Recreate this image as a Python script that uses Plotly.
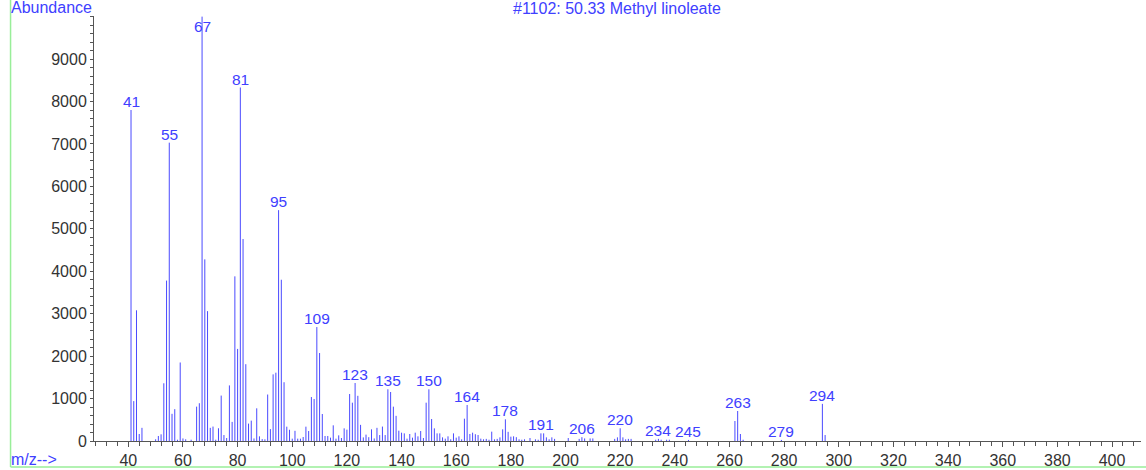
import plotly.graph_objects as go

# ---- data (m/z and abundance) ----
mz = [41, 42, 43, 44, 45, 50, 51, 52, 53, 54, 55, 56, 57, 58, 59, 60, 61, 63,
      65, 66, 67, 68, 69, 70, 71, 72, 73, 74, 75, 76, 77, 78, 79, 80, 81, 82,
      83, 84, 85, 86, 87, 88, 89, 90, 91, 92, 93, 94, 95, 96, 97, 98, 99, 100,
      101, 102, 103, 104, 105, 106, 107, 108, 109, 110, 111, 112, 113, 114,
      115, 116, 117, 118, 119, 120, 121, 122, 123, 124, 125, 126, 127, 128,
      129, 130, 131, 132, 133, 134, 135, 136, 137, 138, 139, 140, 141, 142,
      143, 144, 145, 146, 147, 148, 149, 150, 151, 152, 153, 154, 155, 156,
      157, 158, 159, 160, 161, 162, 163, 164, 165, 166, 167, 168, 169, 170,
      171, 172, 173, 174, 175, 176, 177, 178, 179, 180, 181, 182, 183, 184,
      185, 187, 189, 190, 191, 192, 193, 194, 195, 196, 201, 205, 206, 207,
      209, 210, 218, 219, 220, 221, 222, 223, 224, 233, 234, 235, 237, 238,
      245, 262, 263, 264, 265, 279, 294, 295]
abundance = [7800, 940, 3080, 165, 310, 40, 118, 157, 1360, 3780, 7030, 640,
             750, 30, 1850, 60, 40, 30, 810, 890, 10000, 4280, 3060, 310, 340,
             30, 300, 1070, 140, 70, 1310, 450, 3880, 2170, 8330, 4760, 1810,
             410, 480, 60, 770, 110, 45, 40, 1095, 280, 1570, 1610, 5440, 3800,
             1385, 338, 265, 55, 240, 55, 55, 94, 338, 235, 1036, 990, 2685,
             2073, 636, 118, 118, 79, 369, 55, 133, 70, 298, 267, 1107, 903,
             1366, 1065, 380, 85, 150, 90, 275, 60, 310, 140, 340, 140, 1218,
             1155, 809, 593, 243, 196, 180, 55, 165, 79, 196, 110, 235, 70,
             903, 1218, 518, 298, 180, 180, 86, 55, 110, 40, 180, 79, 110, 40,
             526, 848, 165, 196, 160, 141, 55, 40, 50, 30, 220, 40, 50, 86,
             275, 511, 216, 102, 110, 90, 40, 30, 40, 70, 40, 30, 180, 180,
             86, 40, 86, 50, 70, 50, 90, 60, 60, 60, 50, 86, 300, 86, 40, 50,
             50, 30, 50, 30, 30, 30, 25, 471, 707, 165, 30, 25, 875, 141]
labeled_peaks = [41, 55, 67, 81, 95, 109, 123, 135, 150, 164, 178, 191, 206,
                 220, 234, 245, 263, 279, 294]
x_tick_labels = list(range(40, 401, 20))
y_tick_labels = list(range(0, 9001, 1000))
title_text = "#1102: 50.33 Methyl linoleate"

# ---- styling ----
BLUE = "#4040ff"
LINE_BLUE = "#4a4aff"
AXIS = "#555555"
TICKTXT = "#333333"
GREEN = "#99ee99"
FONT = "Liberation Sans, Arial, sans-serif"
X_RANGE = [27.45, 410.6]
Y_RANGE = [0, 10015]

# stick spectrum as one line trace (vertical segments)
xs, ys = [], []
for m, a in zip(mz, abundance):
    xs += [m, m, None]
    ys += [0, a, None]

fig = go.Figure()
fig.add_trace(go.Scatter(x=xs, y=ys, mode="lines",
                         line=dict(color=LINE_BLUE, width=1),
                         hoverinfo="skip", showlegend=False))

lookup = dict(zip(mz, abundance))
annotations = []
for m in labeled_peaks:
    a = lookup[m]
    if a + 470 > Y_RANGE[1]:
        annotations.append(dict(x=m, y=Y_RANGE[1], text=str(m), showarrow=False,
                                yanchor="top", xanchor="center", yshift=0,
                                font=dict(family=FONT, size=15.5, color=BLUE)))
    else:
        annotations.append(dict(x=m, y=a, text=str(m), showarrow=False,
                                yanchor="bottom", xanchor="center", yshift=-2,
                                font=dict(family=FONT, size=15.5, color=BLUE)))

annotations += [
    dict(xref="paper", yref="paper", x=0.4995, y=1.0188, text=title_text,
         showarrow=False, xanchor="center", yanchor="middle",
         font=dict(family=FONT, size=16, color=BLUE)),
    dict(xref="paper", yref="paper", x=-0.0812, y=1.0188, text="Abundance",
         showarrow=False, xanchor="left", yanchor="middle", yshift=1,
         font=dict(family=FONT, size=16, color=BLUE)),
    dict(xref="paper", yref="paper", x=-0.0812, y=-0.0424, text="m/z-->",
         showarrow=False, xanchor="left", yanchor="middle", yshift=0,
         font=dict(family=FONT, size=16, color=BLUE)),
]

shapes = [
    dict(type="line", xref="paper", yref="paper", x0=-0.0797, x1=-0.0797,
         y0=1.04, y1=-0.0612, line=dict(color=GREEN, width=1.5)),
    dict(type="line", xref="paper", yref="paper", x0=-0.0797, x1=1.01,
         y0=-0.0612, y1=-0.0612, line=dict(color=GREEN, width=1.5)),
]

fig.update_layout(
    width=1146, height=470,
    margin=dict(l=94, r=5, t=16, b=29, autoexpand=False),
    paper_bgcolor="white", plot_bgcolor="white",
    font=dict(family=FONT, size=16, color=TICKTXT),
    annotations=annotations, shapes=shapes,
    showlegend=False,
)
fig.update_xaxes(
    range=X_RANGE, showgrid=False, zeroline=False, automargin=False,
    showline=True, linecolor=AXIS, linewidth=1,
    tickmode="array", tickvals=x_tick_labels,
    ticks="outside", ticklen=5, tickcolor=AXIS, tickwidth=1,
    tickfont=dict(family=FONT, size=16, color=TICKTXT),
    minor=dict(dtick=4, tick0=0, ticks="outside", ticklen=4,
               tickcolor=AXIS, showgrid=False),
)
fig.update_yaxes(
    range=Y_RANGE, showgrid=False, zeroline=False, automargin=False,
    showline=True, linecolor=AXIS, linewidth=1,
    tickmode="array", tickvals=y_tick_labels,
    ticks="outside", ticklen=3, tickcolor=AXIS, tickwidth=1,
    tickfont=dict(family=FONT, size=16, color=TICKTXT),
    minor=dict(dtick=200, tick0=0, ticks="outside", ticklen=3,
               tickcolor=AXIS, showgrid=False),
)

fig.write_html("out.html")
